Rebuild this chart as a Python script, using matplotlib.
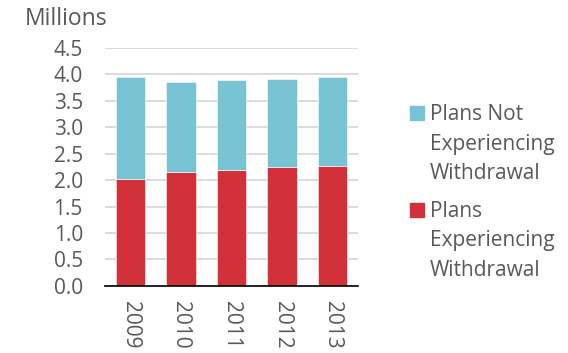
import matplotlib.pyplot as plt
from matplotlib.patches import Rectangle

years = ["2009", "2010", "2011", "2012", "2013"]
withdrawal = [2.02, 2.15, 2.18, 2.25, 2.27]
no_withdrawal = [1.92, 1.70, 1.70, 1.66, 1.68]
ticks = [0.0, 0.5, 1.0, 1.5, 2.0, 2.5, 3.0, 3.5, 4.0, 4.5]

labels = [["Plans Not", "Experiencing", "Withdrawal"],
          ["Plans", "Experiencing", "Withdrawal"]]
colors = ["#77C3D3", "#D2313A"]
TXT = "#595959"
FS = 15

plt.rcParams["font.family"] = ["Open Sans", "DejaVu Sans"]

fig = plt.figure(figsize=(5.68, 3.53), dpi=100)
ax = fig.add_axes([0.185, 0.19, 0.445, 0.675])

x = range(len(years))
ax.bar(x, withdrawal, width=0.58, color=colors[1], edgecolor="white", linewidth=0.4, zorder=3)
ax.bar(x, no_withdrawal, bottom=withdrawal, width=0.58, color=colors[0],
       edgecolor="white", linewidth=0.4, zorder=3)

ax.set_xlim(-0.5, len(years) - 0.5)
ax.set_ylim(0, 4.5)
ax.set_yticks(ticks)
ax.set_yticklabels([f"{t:.1f}" for t in ticks])
ax.set_xticks(list(x))
ax.set_xticklabels(years, rotation=-90, va="top", ha="center")
ax.tick_params(axis="y", length=0, pad=16, labelsize=FS, labelcolor=TXT)
ax.tick_params(axis="x", length=0, pad=11, labelsize=FS, labelcolor=TXT)
ax.yaxis.grid(True, color="#d9d9d9", linewidth=1.3, zorder=0)
for s in ["top", "right", "left"]:
    ax.spines[s].set_visible(False)
ax.spines["bottom"].set_color("black")
ax.spines["bottom"].set_linewidth(1.2)
ax.spines["bottom"].set_zorder(4)

fig.text(25 / 568, 1 - 25 / 353, "Millions", fontsize=16.5, color=TXT, va="baseline", ha="left")

# legend, drawn by hand so the swatch sits on the first line
centers = [113, 209.5]
for lines, col, yy in zip(labels, colors, centers):
    fig.add_artist(Rectangle((410 / 568, 1 - (yy + 7) / 353), 14 / 568, 14 / 353,
                             transform=fig.transFigure, color=col))
    for i, ln in enumerate(lines):
        fig.text(430 / 568, 1 - (yy + 7.4 + i * 29.5) / 353, ln, fontsize=FS,
                 color=TXT, va="baseline", ha="left")

fig.savefig("out.png", dpi=100)
